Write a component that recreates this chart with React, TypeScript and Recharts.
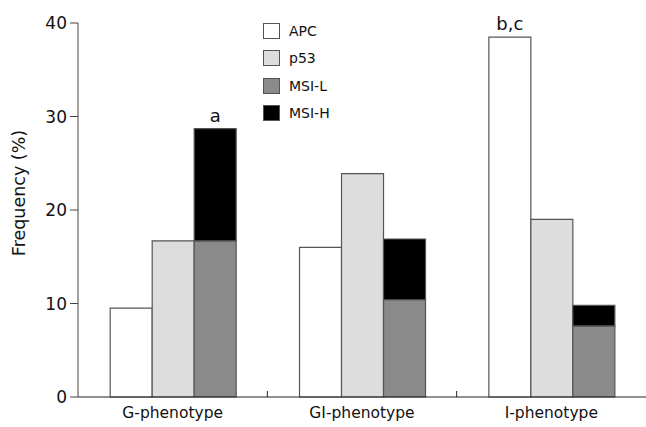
import React from "react";
import { BarChart, Bar, XAxis, YAxis, Legend, LabelList } from "recharts";

const CATEGORIES = ["G-phenotype", "GI-phenotype", "I-phenotype"];
const APC = [9.5, 16.0, 38.5];
const P53 = [16.7, 23.9, 19.0];
const MSI_L = [16.7, 10.4, 7.6];
const MSI_H = [12.0, 6.5, 2.2];
const APC_NOTE = ["", "", "b,c"];
const MSI_NOTE = ["a", "", ""];
const Y_TICKS = [0, 10, 20, 30, 40];

const SERIES = [
  { key: "apc", name: "APC", fill: "#ffffff" },
  { key: "p53", name: "p53", fill: "#dcdddc" },
  { key: "msiL", name: "MSI-L", fill: "#8a8a8a" },
  { key: "msiH", name: "MSI-H", fill: "#000000" },
];

const data = CATEGORIES.map((name, i) => ({
  name,
  apc: APC[i],
  p53: P53[i],
  msiL: MSI_L[i],
  msiH: MSI_H[i],
  apcNote: APC_NOTE[i],
  msiNote: MSI_NOTE[i],
}));

const FONT = "'DejaVu Sans', Verdana, sans-serif";
const EDGE = "#555555";

const renderLegend = () => (
  <div style={{ fontFamily: FONT, fontSize: 14, color: "#111" }}>
    {SERIES.map((s) => (
      <div key={s.key} style={{ display: "flex", alignItems: "center", height: 27.5 }}>
        <span
          style={{
            display: "inline-block",
            width: 15,
            height: 14,
            background: s.fill,
            border: `1px solid ${EDGE}`,
            marginRight: 9,
          }}
        />
        {s.name}
      </div>
    ))}
  </div>
);

const CategoryTick = (props: any) => {
  const { x, y, payload, width } = props;
  const band = (width || 568) / CATEGORIES.length;
  const left = x - band / 2;
  return (
    <g>
      {payload.index > 0 && <line x1={left} x2={left} y1={y} y2={y - 6} stroke="#222" strokeWidth={1} />}
      <text x={x} y={y + 21} textAnchor="middle" fontSize={15.5} fill="#111" fontFamily={FONT}>
        {payload.value}
      </text>
    </g>
  );
};

export default function App() {
  return (
    <div style={{ position: "absolute", left: 0, top: 0, width: 646, height: 427, background: "#fff", fontFamily: FONT }}>
      <div
        style={{
          position: "absolute",
          left: 19 - 100,
          top: 193 - 12,
          width: 200,
          height: 24,
          lineHeight: "24px",
          textAlign: "center",
          fontSize: 17.5,
          color: "#111",
          transform: "rotate(-90deg)",
          zIndex: 2,
        }}
      >
        Frequency (%)
      </div>
      <BarChart
        width={646}
        height={427}
        data={data}
        margin={{ top: 23, right: 0, bottom: 0, left: 0 }}
        barCategoryGap="17%"
        barGap={0}
      >
        <XAxis
          dataKey="name"
          height={30}
          tickSize={0}
          tickMargin={0}
          tickLine={false}
          axisLine={{ stroke: "#222", strokeWidth: 1 }}
          tick={<CategoryTick />}
          interval={0}
        />
        <YAxis
          width={78}
          domain={[0, 40]}
          ticks={Y_TICKS}
          tickSize={8}
          tickMargin={3}
          axisLine={{ stroke: "#444", strokeWidth: 1 }}
          tickLine={{ stroke: "#444" }}
          tick={{ fontSize: 17, fill: "#111", fontFamily: FONT }}
        />
        <Legend
          layout="vertical"
          align="center"
          verticalAlign="middle"
          content={renderLegend}
          wrapperStyle={{ position: "absolute", left: 263, top: 17, width: 120 }}
        />
        <Bar dataKey="apc" name="APC" stackId="apc" fill="#ffffff" stroke={EDGE} strokeWidth={1.2} isAnimationActive={false}>
          <LabelList dataKey="apcNote" position="top" offset={7} fontSize={18} fill="#111" fontFamily={FONT} />
        </Bar>
        <Bar dataKey="p53" name="p53" stackId="p53" fill="#dcdddc" stroke={EDGE} strokeWidth={1.2} isAnimationActive={false} />
        <Bar dataKey="msiL" name="MSI-L" stackId="msi" fill="#8a8a8a" stroke={EDGE} strokeWidth={1.2} isAnimationActive={false} />
        <Bar dataKey="msiH" name="MSI-H" stackId="msi" fill="#000000" stroke={EDGE} strokeWidth={1.2} isAnimationActive={false}>
          <LabelList dataKey="msiNote" position="top" offset={7} fontSize={18} fill="#111" fontFamily={FONT} />
        </Bar>
      </BarChart>
    </div>
  );
}
